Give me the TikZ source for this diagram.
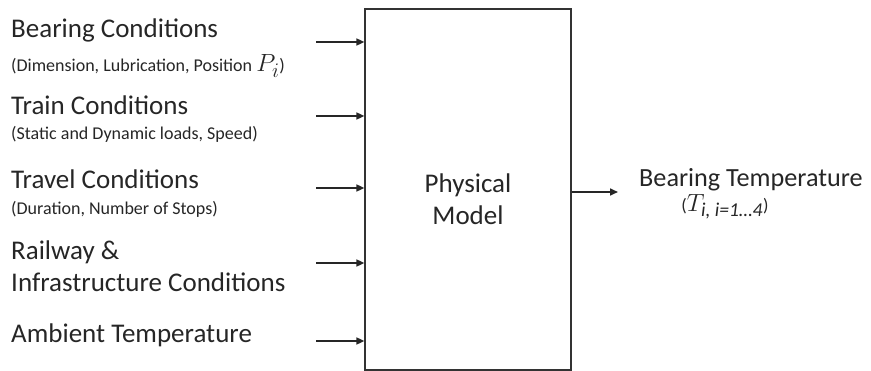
\documentclass[tikz,border=0pt]{standalone}
\usepackage{fontspec}
\setmainfont{Carlito}
\usepackage{tikz}
\usetikzlibrary{arrows.meta, positioning}
\usepackage{amsmath}

\begin{document}
\begin{tikzpicture}[
    x=1pt, y=-1pt,
    title/.style={anchor=base west, inner sep=0pt, text=black!85,
                  font=\fontsize{27}{31}\selectfont},
    detail/.style={anchor=base west, inner sep=0pt, text=black!85,
                   font=\fontsize{18}{21}\selectfont},
    model/.style={draw=black!80, line width=1.2pt, minimum width=206pt,
                  minimum height=361pt, align=center, text=black!85,
                  font=\fontsize{27}{32}\selectfont},
    arrow/.style={-{Triangle[length=8pt, width=7pt]}, line width=1.6pt, draw=black!85}
]
\useasboundingbox (0,0) rectangle (871,371);

\node[model] (model) at (468,189.5) {\\[6pt]Physical\\Model};

% inputs
\node[title] (bearing) at (11,38) {Bearing Conditions};
\node[detail] (bearingd) at (11,72) {(Dimension, Lubrication, Position {\fontsize{30}{34}\selectfont$P_i$})};
\node[title] (train) at (11,115) {Train Conditions};
\node[detail] (traind) at (11,140) {(Static and Dynamic loads, Speed)};
\node[title] (travel) at (11,189) {Travel Conditions};
\node[detail] (traveld) at (11,215) {(Duration, Number of Stops)};
\node[title] (railway) at (11,260) {Railway \&};
\node[title] (infra) at (11,292) {Infrastructure Conditions};
\node[title] (ambient) at (11,343) {Ambient Temperature};

\coordinate (in1) at (316,42);
\coordinate (in2) at (316,116);
\coordinate (in3) at (316,188);
\coordinate (in4) at (316,263);
\coordinate (in5) at (316,341);
\foreach \i in {1,...,5}
    \draw[arrow] (in\i) -- (in\i -| model.west);

% output
\coordinate (out) at (618,192);
\draw[arrow] (model.east |- out) -- (out);
\node[title, font=\fontsize{26.2}{31}\selectfont] (temp) at (639,187) {Bearing Temperature};
\node[detail, anchor=base] (tempd) at (725,212) {({\fontsize{28}{32}\selectfont$T_{\text{\itshape i, i=1\ldots4}}$})};
\end{tikzpicture}
\end{document}
